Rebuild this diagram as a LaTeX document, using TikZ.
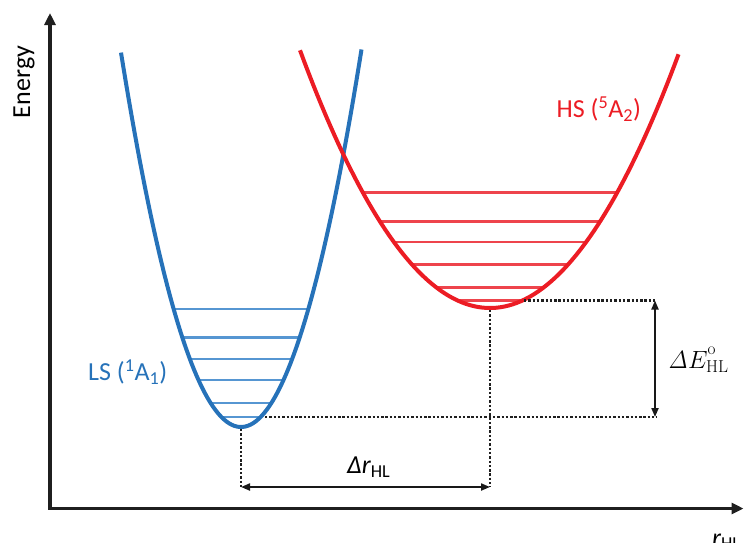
\documentclass[tikz,border=0pt]{standalone}
\usepackage[no-math]{fontspec}
\setmainfont{Carlito}
\usetikzlibrary{arrows.meta}
\definecolor{lsblue}{RGB}{38,114,185}
\definecolor{lslvl}{RGB}{86,150,210}
\definecolor{hsred}{RGB}{236,28,36}
\definecolor{hslvl}{RGB}{238,68,76}
\newcommand{\dEHL}{$\mathit{\Delta}E^{\mathrm{o}\vrule depth 4.5pt height 0pt width 0pt}_{\mathrm{HL}}$}
\begin{document}
\begin{tikzpicture}[x=1pt,y=-1pt,
  axisline/.style={line width=3.2pt, line join=miter,
    {Triangle[length=12pt,width=11pt]}-{Triangle[length=12pt,width=11pt]}},
  curveLS/.style={lsblue, line width=4pt},
  curveHS/.style={hsred, line width=4pt},
  lvlLS/.style={lslvl, line width=2.6pt},
  lvlHS/.style={hslvl, line width=2.6pt},
  guide/.style={black!88, line width=2.8pt, dash pattern=on 2.4pt off 1.9pt},
  dim/.style={black!90, line width=2pt,
    {Triangle[length=9pt,width=7pt]}-{Triangle[length=9pt,width=7pt]}},
  lbl/.style={font=\fontsize{26}{30}\selectfont, inner sep=0pt}
]
\useasboundingbox (0,0) rectangle (744,542);

% axes
\coordinate (ytop) at (50,13);
\coordinate (O) at (50,508.5);
\coordinate (xend) at (743.5,508.5);
\draw[axisline, black!88] (ytop) -- (O) -- (xend);

% vibrational levels
\foreach \yy in {309,337.7,359,380,403,417}{
  \pgfmathsetmacro\dx{sqrt((427-\yy)/0.026)}
  \draw[lvlLS] ({241-\dx},\yy) -- ({241+\dx},\yy);
}
\foreach \yy in {192.7,221.3,242,264.3,287.3,300.7}{
  \pgfmathsetmacro\dx{10*sqrt((308-\yy)/0.714)}
  \draw[lvlHS] ({490-\dx},\yy) -- ({490+\dx},\yy);
}

% potential curves
\draw[curveLS] plot[domain=-120:120.5, samples=90] ({241+\x},{427-2.6*(\x/10)*(\x/10)});
\draw[curveHS] plot[domain=-190:188.5, samples=90] ({490+\x},{308-0.714*(\x/10)*(\x/10)});

% guide coordinates
\coordinate (bmin) at (241,429);
\coordinate (rmin) at (490,310);
\coordinate (bh) at (265,417);
\coordinate (rh) at (524,300.5);
\coordinate (Etop) at (655,300.5);
\coordinate (Ebot) at (655,417);
\coordinate (rL) at (241,487);
\coordinate (rR) at (490,487);

\draw[guide] (bh) -- ([xshift=2pt]Ebot);
\draw[guide] (rh) -- ([xshift=2pt]Etop);
\draw[guide] (bmin) -- (rL);
\draw[guide] (rmin) -- (rR);

\draw[dim] (Etop) -- (Ebot);
\draw[dim] (rL) -- (rR);

% labels
\node[lbl, anchor=base, rotate=90] (en) at (30,82) {Energy};
\node[lbl, lsblue, anchor=base west] (ls) at (88,380.7) {LS (\textsuperscript{1}A\textsubscript{1})};
\node[lbl, hsred, anchor=base west] (hs) at (556.5,117.3) {HS (\textsuperscript{5}A\textsubscript{2})};
\node[lbl, anchor=base west] (dr) at (347,473.3) {\itshape Δr\textsubscript{\upshape HL}};
\node[anchor=base west, inner sep=0pt, font=\fontsize{23.5}{28}\selectfont] (de) at (668,368) {\dEHL};
\node[lbl, anchor=base west] (rx) at (712,546) {\itshape r\textsubscript{\upshape HL}};
\end{tikzpicture}
\end{document}
